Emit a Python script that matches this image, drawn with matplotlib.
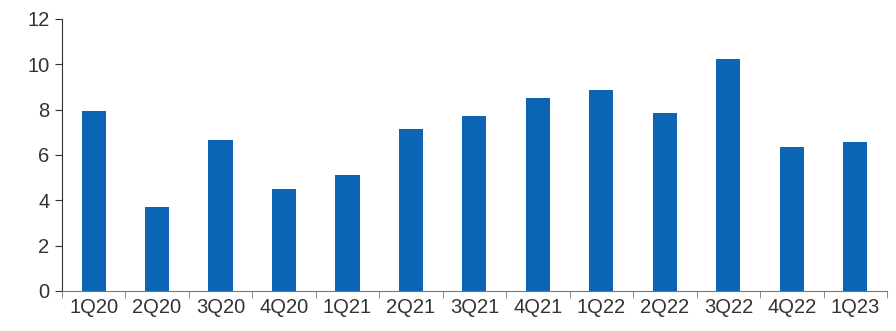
import matplotlib
matplotlib.use("Agg")
import matplotlib.pyplot as plt
import numpy as np

quarters = ["1Q20", "2Q20", "3Q20", "4Q20", "1Q21", "2Q21", "3Q21",
            "4Q21", "1Q22", "2Q22", "3Q22", "4Q22", "1Q23"]
values = [7.95, 3.7, 6.65, 4.5, 5.1, 7.15, 7.7, 8.5, 8.85, 7.85, 10.25, 6.35, 6.55]

plt.rcParams["font.family"] = ["Liberation Sans", "DejaVu Sans"]

fig = plt.figure(figsize=(8.96, 3.31), dpi=100)
ax = fig.add_axes([0.069, 0.121, 0.921, 0.822])

x = np.arange(len(quarters))
ax.bar(x, values, width=0.38, color="#0b64b4", zorder=3)

ax.set_xlim(-0.5, len(quarters) - 0.5)
ax.set_ylim(0, 12)
ax.set_yticks(range(0, 13, 2))
ax.set_xticks(x)
ax.set_xticklabels(quarters)
# tick marks sit between the categories
ax.set_xticks(np.arange(-0.5, len(quarters)), minor=True)
ax.tick_params(axis="x", which="major", length=0, pad=5)
ax.tick_params(axis="x", which="minor", length=5, color="#777777")
ax.tick_params(axis="y", length=5, color="#333333", pad=4)
ax.tick_params(labelsize=14.5, labelcolor="#333333")

for s in ("top", "right"):
    ax.spines[s].set_visible(False)
ax.spines["left"].set_color("#333333")
ax.spines["bottom"].set_color("#777777")

fig.savefig("out.png", dpi=100)
